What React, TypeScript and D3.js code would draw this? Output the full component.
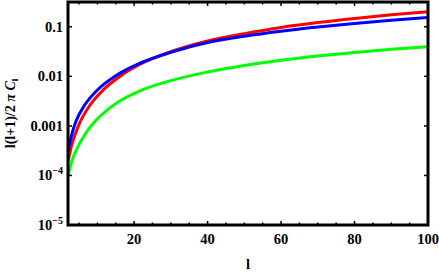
import React from "react";
import * as d3 from "d3";

const lRed = [2, 3, 5, 8, 11.8, 16, 21.6, 30, 40, 50, 60, 70, 80, 90, 100];
const vRed = [1.9e-4, 4.08e-4, 1.07e-3, 2.63e-3, 5.5e-3, 9.84e-3, 0.0175, 0.0316, 0.052, 0.0727, 0.097, 0.1213, 0.1468, 0.1738, 0.2015];
const lBlue = [2, 3, 4.2, 6.5, 10, 15, 21.6, 30, 40, 50, 60, 70, 80, 90, 100];
const vBlue = [3.0e-4, 6.6e-4, 1.25e-3, 2.6e-3, 5.3e-3, 0.0103, 0.0184, 0.0306, 0.048, 0.0642, 0.081, 0.0984, 0.1163, 0.1347, 0.1537];
const lGreen = [2, 3, 5, 7, 9.2, 12, 16.2, 21.6, 30, 40, 50, 60, 70, 80, 90, 100];
const vGreen = [1.0e-4, 1.9e-4, 4.2e-4, 7.44e-4, 1.2e-3, 1.9e-3, 3.2e-3, 5.1e-3, 8.2e-3, 0.0122, 0.0166, 0.0211, 0.0257, 0.0303, 0.035, 0.0396];

const xTicksMajor = [20, 40, 60, 80, 100];
const xTicksMinor = d3.range(5, 101, 5);
const yTicks = [0.1, 0.01, 0.001, 1e-4, 1e-5];
const yLabels: [string, string][] = [["0.1", ""], ["0.01", ""], ["0.001", ""], ["10", "\u22124"], ["10", "\u22125"]];

const series = [
  { l: lGreen, v: vGreen, color: "#00ff00" },
  { l: lRed, v: vRed, color: "#ff0000" },
  { l: lBlue, v: vBlue, color: "#0000ff" },
];

export default function App() {
  const W = 439, H = 273;
  const left = 68, right = 428, top = 2, bottom = 225;
  const x = d3.scaleLinear().domain([2, 100]).range([left, right]);
  const y = d3.scaleLog().domain([1e-5, 0.316]).range([bottom, top]);
  const font = "'Liberation Serif', 'DejaVu Serif', serif";

  const line = d3
    .line<[number, number]>()
    .x((d) => x(d[0]))
    .y((d) => y(d[1]))
    .curve(d3.curveMonotoneX);

  return (
    <svg width={W} height={H} style={{ position: "absolute", left: 0, top: 0 }}>
      <defs>
        <clipPath id="plot">
          <rect x={left} y={top} width={right - left} height={bottom - top} />
        </clipPath>
      </defs>
      <rect width={W} height={H} fill="#fff" />
      <g clipPath="url(#plot)">
        {series.map((s, i) => (
          <path
            key={i}
            d={line(s.l.map((l, j) => [l, s.v[j]] as [number, number])) || ""}
            fill="none"
            stroke={s.color}
            strokeWidth={3}
          />
        ))}
      </g>
      {xTicksMinor.map((t) => {
        const major = xTicksMajor.includes(t);
        const len = major ? 4 : 2.5;
        return (
          <g key={"xt" + t}>
            <line x1={x(t)} x2={x(t)} y1={bottom} y2={bottom - len} stroke="#000" strokeWidth={1.5} />
            <line x1={x(t)} x2={x(t)} y1={top} y2={top + len} stroke="#000" strokeWidth={1.5} />
          </g>
        );
      })}
      {yTicks.map((t) => (
        <g key={"yt" + t}>
          <line x1={left} x2={left + 4} y1={y(t)} y2={y(t)} stroke="#000" strokeWidth={1.5} />
          <line x1={right} x2={right - 4} y1={y(t)} y2={y(t)} stroke="#000" strokeWidth={1.5} />
        </g>
      ))}
      <rect x={left} y={top} width={right - left} height={bottom - top} fill="none" stroke="#000" strokeWidth={3} />
      {xTicksMajor.map((t) => (
        <text key={"xl" + t} x={x(t)} y={243.5} textAnchor="middle" fontFamily={font} fontWeight="bold" fontSize={14.5}>
          {t}
        </text>
      ))}
      {yTicks.map((t, i) => (
        <text key={"yl" + t} x={left - 5} y={y(t) + 5} textAnchor="end" fontFamily={font} fontWeight="bold" fontSize={14.5}>
          {yLabels[i][0]}
          {yLabels[i][1] && (
            <tspan dy={-6} fontSize={10}>
              {yLabels[i][1]}
            </tspan>
          )}
        </text>
      ))}
      <text x={(left + right) / 2} y={269} textAnchor="middle" fontFamily={font} fontWeight="bold" fontSize={14.5}>
        l
      </text>
      <text
        transform={`translate(15, ${(top + bottom) / 2}) rotate(-90)`}
        textAnchor="middle"
        fontFamily={font}
        fontWeight="bold"
        fontSize={14}
      >
        l(l+1)/2 <tspan fontStyle="italic">{"\u03c0"}</tspan> <tspan fontStyle="italic">C</tspan>
        <tspan dy={3} fontSize={9}>l</tspan>
      </text>
    </svg>
  );
}
